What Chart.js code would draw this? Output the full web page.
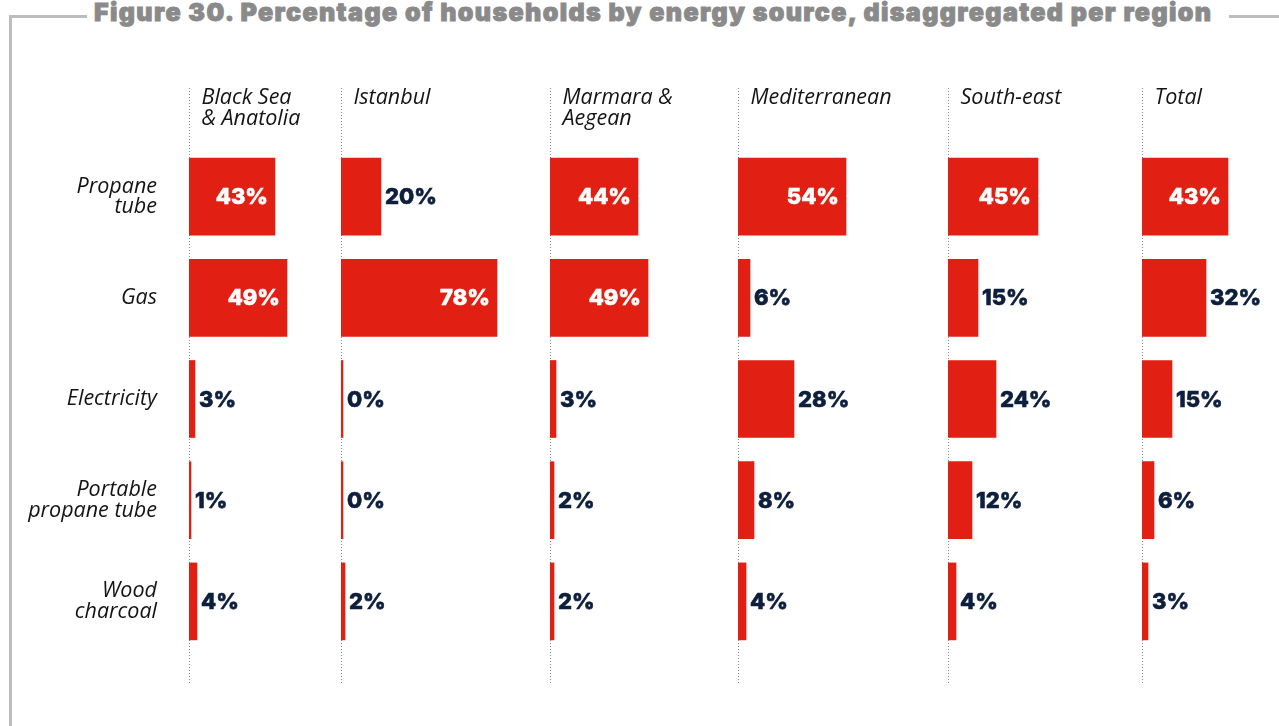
<!DOCTYPE html>
<html>
<head>
<meta charset="utf-8">
<script src="https://cdn.jsdelivr.net/npm/chart.js@4.4.1/dist/chart.umd.min.js"></script>
<style>
  html, body { margin: 0; padding: 0; background: #fff; }
  #page { position: relative; width: 1279px; height: 726px; overflow: hidden; }
  .frame { position: absolute; background: #bdbdbd; }
  #title {
    position: absolute; left: 94px; top: -3px;
    font-family: Inter, "DejaVu Sans", sans-serif; font-weight: 900; font-size: 25px;
    color: #8a8a8a; white-space: nowrap;
    -webkit-text-stroke: 0.9px #8a8a8a;
  }
  canvas { position: absolute; top: 70px; }
</style>
</head>
<body>
<div id="page">
  <div class="frame" style="left:9px;top:15px;width:78px;height:3px"></div>
  <div class="frame" style="left:9px;top:15px;width:3px;height:711px"></div>
  <div class="frame" style="left:1229px;top:15px;width:50px;height:3px"></div>
  <div id="title">Figure 30. Percentage of households by energy source, disaggregated per region</div>
</div>
<script>
const categories = [["Propane", "tube"], "Gas", "Electricity", ["Portable", "propane tube"], ["Wood", "charcoal"]];
const regions = [["Black Sea", "& Anatolia"], ["Istanbul"], ["Marmara &", "Aegean"], ["Mediterranean"], ["South-east"], ["Total"]];

const blackSea = [43, 49, 3, 1, 4];
const istanbul = [20, 78, 0, 0, 2];
const marmara = [44, 49, 3, 2, 2];
const mediterranean = [54, 6, 28, 8, 4];
const southEast = [45, 15, 24, 12, 4];
const total = [43, 32, 15, 6, 3];

const regionValues = [blackSea, istanbul, marmara, mediterranean, southEast, total];

// left edge (zero line) of each panel
const panelX = [189, 341, 550, 738, 948, 1142];
const PAGE_W = 1279;

const RED = "#e11f13";
const NAVY = "#0d1f3d";

// fit title to its measured width in the reference
(function fitTitle() {
  const t = document.getElementById("title");
  const w = t.getBoundingClientRect().width;
  const n = t.textContent.length;
  t.style.letterSpacing = ((1117 - w) / (n - 1)).toFixed(3) + "px";
})();

const panelDecor = {
  id: "panelDecor",
  beforeDatasetsDraw(chart) {
    const ctx = chart.ctx;
    const x0 = Math.round(chart.scales.x.getPixelForValue(0)) + 0.5;
    ctx.save();
    ctx.strokeStyle = "#8a8a8a";
    ctx.lineWidth = 1;
    ctx.setLineDash([1, 2]);
    ctx.beginPath();
    ctx.moveTo(x0, 18);
    ctx.lineTo(x0, 614);
    ctx.stroke();
    ctx.setLineDash([]);
    ctx.fillStyle = "#141414";
    ctx.font = "italic 21.5px 'Open Sans'";
    ctx.textAlign = "left";
    ctx.textBaseline = "alphabetic";
    chart.options.plugins.panelDecor.title.forEach((line, i) => {
      ctx.fillText(line, x0 + 12, 34 + i * 21);
    });
    ctx.restore();
  },
  afterDatasetsDraw(chart) {
    const ctx = chart.ctx;
    const meta = chart.getDatasetMeta(0);
    const data = chart.data.datasets[0].data;
    ctx.save();
    ctx.font = "800 22px Inter";
    ctx.textBaseline = "middle";
    ctx.lineWidth = 0.6;
    meta.data.forEach((bar, i) => {
      const v = data[i];
      const txt = v + "%";
      let x;
      if (v >= 40) {
        ctx.fillStyle = ctx.strokeStyle = "#ffffff";
        ctx.textAlign = "right";
        x = bar.x - 7;
      } else {
        ctx.fillStyle = ctx.strokeStyle = NAVY;
        ctx.textAlign = "left";
        x = bar.x + 4;
      }
      ctx.fillText(txt, x, bar.y + 1);
      ctx.strokeText(txt, x, bar.y + 1);
    });
    ctx.restore();
  }
};

regionValues.forEach((values, i) => {
  const left = i === 0 ? 0 : panelX[i];
  const right = i < panelX.length - 1 ? panelX[i + 1] : PAGE_W;
  const canvas = document.createElement("canvas");
  canvas.width = right - left;
  canvas.height = 640;
  canvas.style.left = left + "px";
  document.getElementById("page").appendChild(canvas);

  const yScale = {
    display: i === 0,
    grid: { display: false, drawTicks: false },
    border: { display: false },
    ticks: {
      autoSkip: false,
      padding: 32,
      color: "#141414",
      font: { family: "'Open Sans'", style: "italic", size: 21.5, lineHeight: 0.95 }
    }
  };
  if (i === 0) {
    yScale.afterFit = (scale) => { scale.width = panelX[0]; };
  }

  new Chart(canvas.getContext("2d"), {
    type: "bar",
    data: {
      labels: categories,
      datasets: [{
        data: values,
        backgroundColor: RED,
        borderWidth: 0,
        barThickness: 77,
        minBarLength: 2
      }]
    },
    options: {
      indexAxis: "y",
      responsive: false,
      animation: false,
      devicePixelRatio: 1,
      layout: { padding: { top: 76, bottom: 58, left: 0, right: 0 } },
      plugins: {
        legend: { display: false },
        tooltip: { enabled: false },
        panelDecor: { title: regions[i] }
      },
      scales: {
        x: {
          display: false,
          min: 0,
          max: (right - panelX[i]) / 2
        },
        y: yScale
      }
    },
    plugins: [panelDecor]
  });
});
</script>
</body>
</html>
